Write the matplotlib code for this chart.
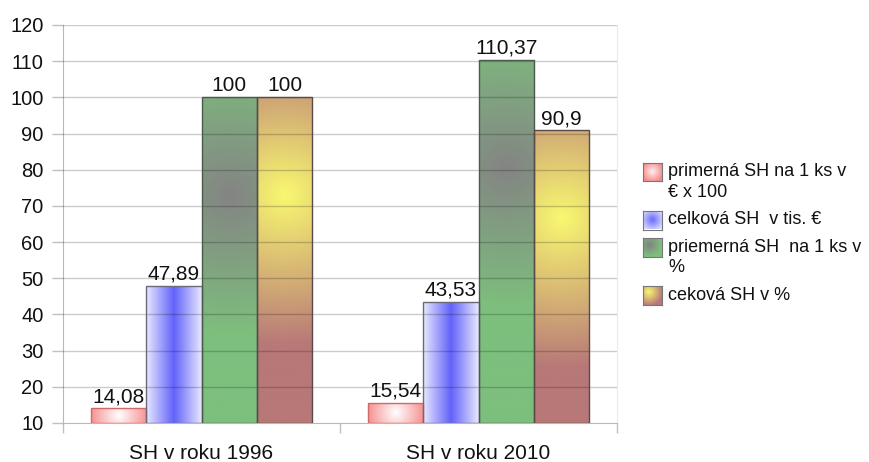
import numpy as np
import matplotlib.pyplot as plt
from matplotlib.colors import to_rgb

plt.rcParams['font.family'] = ['Liberation Sans', 'DejaVu Sans']

groups = ['SH v roku 1996', 'SH v roku 2010']
series_names = ['primerná SH na 1 ks v\n€ x 100',
                'celková SH  v tis. €',
                'priemerná SH  na 1 ks v\n%',
                'ceková SH v %']
primerna_sh = [14.08, 15.54]
celkova_sh = [47.89, 43.53]
priemerna_pct = [100, 110.37]
celkova_pct = [100, 90.9]
values = [primerna_sh, celkova_sh, priemerna_pct, celkova_pct]

W, H = 869, 462
fig = plt.figure(figsize=(W / 100, H / 100), dpi=100)
ax = fig.add_axes([63 / W, 1 - 423 / H, (617 - 63) / W, (423 - 25) / H])
ymin, ymax = 10, 120
ax.set_xlim(-0.5, 1.5)
ax.set_ylim(ymin, ymax)

# pixels per data unit, for gradients that look right on screen
px_x = (617 - 63) / 2.0
px_y = (423 - 25) / float(ymax - ymin)


def grad_radial(w, h, cx, cy, r, c_in, c_out, n=120):
    xs = np.linspace(0, w, n)
    ys = np.linspace(0, h, max(int(n * h / max(w, 1)), 20))
    X, Y = np.meshgrid(xs, ys)
    t = np.clip(np.hypot(X - cx * w, Y - cy * h) / r, 0, 1)[..., None]
    return np.array(to_rgb(c_in)) * (1 - t) + np.array(to_rgb(c_out)) * t


def grad_axial(w, h, c_in, c_out, n=120):
    xs = np.linspace(0, 1, n)
    t = np.abs(xs - 0.5) / 0.5
    row = np.array(to_rgb(c_in)) * (1 - t[:, None]) + np.array(to_rgb(c_out)) * t[:, None]
    return np.repeat(row[None, :, :], 4, axis=0)


def fill(k, w, h):
    if k == 0:
        return grad_radial(w, h, 0.5, 0.5, 30, '#ffffff', '#f58a8a')
    if k == 1:
        return grad_axial(w, h, '#6262fa', '#e8e8ff')
    if k == 2:
        return grad_radial(w, h, 0.5, 0.7, 140, '#848484', '#7dbf7d')
    return grad_radial(w, h, 0.5, 0.7, 150, '#f8f870', '#b87878')


edges = ['#d06a6a', '#6a6a7a', '#4a5a4a', '#5a4a4a']
bw = 0.2
x = np.arange(len(groups))
for k, vals in enumerate(values):
    xpos = x - 0.3 + k * bw
    bars = ax.bar(xpos, np.array(vals) - ymin, bw, bottom=ymin,
                  facecolor='none', edgecolor=edges[k], linewidth=1, zorder=4)
    for b, v in zip(bars, vals):
        x0 = b.get_x()
        w_px = bw * px_x
        h_px = (v - ymin) * px_y
        img = ax.imshow(fill(k, w_px, h_px), origin='lower', aspect='auto',
                        extent=(x0, x0 + bw, ymin, v), zorder=2,
                        interpolation='bilinear')
        img.set_clip_path(b)
        ax.annotate(f'{v:g}'.replace('.', ','), (x0 + bw / 2, v),
                    xytext=(0, 1.5), textcoords='offset points',
                    ha='center', va='bottom', fontsize=15, color='#111111')

# grid lines sit on top of the bars
for yv in range(ymin + 10, ymax + 1, 10):
    ax.axhline(yv, color='black', alpha=0.2, linewidth=1, zorder=3)

ax.set_xlim(-0.5, 1.5)
ax.set_ylim(ymin, ymax)
ax.set_yticks(range(ymin, ymax + 1, 10))
ax.set_xticks(x)
ax.set_xticklabels(groups)
ax.set_xticks([-0.5, 0.5, 1.5], minor=True)
ax.tick_params(axis='y', length=8, width=1, color='#c0c0c0', pad=6,
               labelsize=14.5, labelcolor='#111111')
ax.tick_params(axis='x', which='major', length=0, pad=15,
               labelsize=15, labelcolor='#111111')
ax.tick_params(axis='x', which='minor', length=7.5, width=1, color='#c0c0c0')
ax.spines['top'].set_visible(False)
ax.spines['right'].set_color('#e4ecf4')
for s in ['left', 'bottom']:
    ax.spines[s].set_color('#b8b8b8')

# legend drawn by hand so the swatches can carry the gradients
swatch_cfg = [
    ('#fff0f0', '#f58a8a', 0.5, 0.5, 11),
    ('#6a6afa', '#dcdcff', 0.5, 0.5, 12),
    ('#828282', '#7dbf7d', 0.35, 0.65, 12),
    ('#f8f870', '#b87878', 0.3, 0.7, 14),
]
sw = 19
yc = 172
for k, name in enumerate(series_names):
    c_in, c_out, cx, cy, r = swatch_cfg[k]
    sax = fig.add_axes([643 / W, 1 - (yc + sw / 2) / H, sw / W, sw / H])
    sax.imshow(grad_radial(sw, sw, cx, cy, r, c_in, c_out, n=40),
               origin='lower', aspect='auto', interpolation='bilinear')
    sax.set_xticks([])
    sax.set_yticks([])
    for sp in sax.spines.values():
        sp.set_color('#777777')
        sp.set_linewidth(0.8)
    lines = name.split('\n')
    for i, line in enumerate(lines):
        fig.text(668 / W, 1 - (yc + i * 20.5) / H, line, ha='left',
                 va='center', fontsize=13, color='#111111')
    yc += 27.5 + 20.5 * (len(lines) - 1)

fig.savefig('out.png', dpi=100)
